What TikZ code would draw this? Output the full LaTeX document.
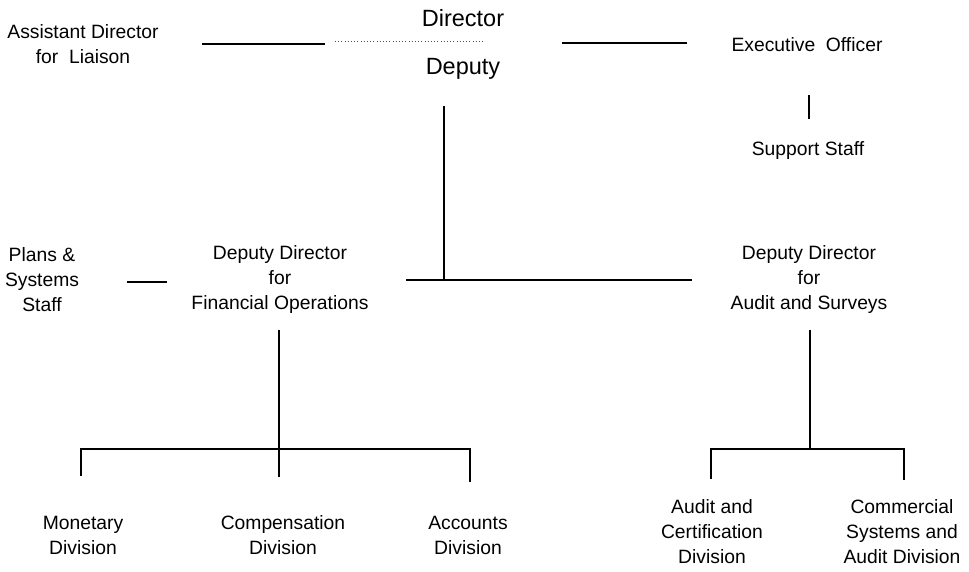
\documentclass[tikz,border=0pt]{standalone}
\usepackage{fontspec}
\setmainfont{Liberation Sans}
\begin{document}
\begin{tikzpicture}[x=1pt,y=-1pt,
  lbl/.style={align=center,inner sep=0pt,font=\fontsize{19.3}{25}\selectfont},
  big/.style={inner sep=0pt,font=\fontsize{23.5}{25}\selectfont},
  link/.style={line width=1.1pt,black},
  dotline/.style={line width=0.8pt,black!70,dash pattern=on 1pt off 2.2pt}]
\useasboundingbox (0,0) rectangle (969,571);

% top level
\node[lbl] (aad) at (83,44) {Assistant Director\\for~ Liaison};
\node[big] (dir) at (463,18) {Director};
\node[big] (dep) at (463,69) {Deputy};
\node[lbl] (exo) at (807,45) {Executive~ Officer};
\node[lbl] (sup) at (808,151) {Support Staff};

% second level
\node[lbl] (pss) at (42,280) {Plans \&\\Systems\\Staff};
\node[lbl] (ddfo) at (280,280) {Deputy Director\\for\\Financial Operations};
\node[lbl] (ddas) at (809,280) {Deputy Director\\for\\Audit and Surveys};

% divisions
\node[lbl] (mon) at (83,535) {Monetary\\Division};
\node[lbl] (comp) at (283,535) {Compensation\\Division};
\node[lbl] (acc) at (468,535) {Accounts\\Division};
\node[lbl] (acd) at (712,532) {Audit and\\Certification\\Division};
\node[lbl] (csad) at (902,532) {Commercial\\Systems and\\Audit Division};

% line ends and junction points
\coordinate (aadl) at (202,44);
\coordinate (aadr) at (325,44);
\coordinate (dotw) at (335,41);
\coordinate (dote) at (485,41);
\coordinate (exol) at (562,43);
\coordinate (exor) at (687,43);
\coordinate (supt) at (809,95);
\coordinate (supb) at (809,119);
\coordinate (jtop) at (444,106);
\coordinate (jmid) at (444,280);
\coordinate (hw) at (406,280);
\coordinate (he) at (692,280);
\coordinate (pssl) at (127,282);
\coordinate (pssr) at (167,282);
\coordinate (ftop) at (279,330);
\coordinate (fbus) at (279,449);
\coordinate (atop) at (810,330);
\coordinate (abus) at (810,449);

% office of the director
\draw[dotline] (dotw) -- (dote);
\draw[link] (aadl) -- (aadr);
\draw[link] (exol) -- (exor);
\draw[link] (supt) -- (supb);

% deputy to the two deputy directors
\draw[link] (jtop) -- (jmid);
\draw[link] (hw) -- (he);
\draw[link] (pssl) -- (pssr);

% financial operations divisions
\draw[link] (ftop) -- (fbus);
\draw[link] (81,476) -- (81,449) -- (470,449) -- (470,482);
\draw[link] (fbus) -- (279,477);

% audit and surveys divisions
\draw[link] (atop) -- (abus);
\draw[link] (711,479) -- (711,449) -- (904,449) -- (904,480);
\end{tikzpicture}
\end{document}
